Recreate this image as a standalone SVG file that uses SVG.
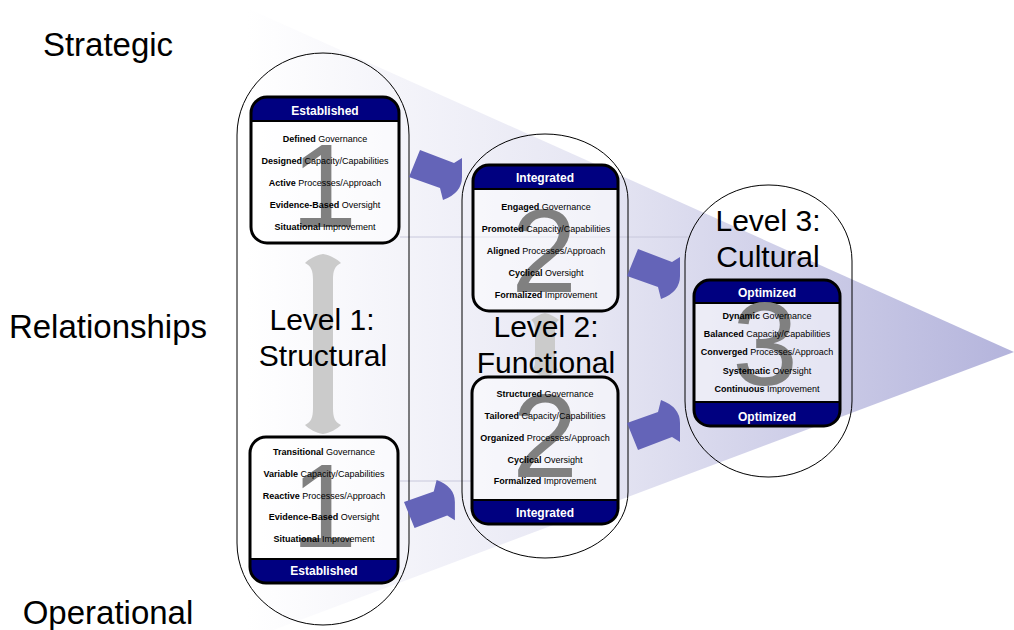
<svg xmlns="http://www.w3.org/2000/svg" width="1014" height="630" viewBox="0 0 1014 630">
  <defs>
    <linearGradient id="coneFill" gradientUnits="userSpaceOnUse" x1="247" y1="0" x2="1014" y2="0">
      <stop offset="0" stop-color="#ffffff"/>
      <stop offset="0.45" stop-color="#e6e6f3"/>
      <stop offset="1" stop-color="#b4b4dc"/>
    </linearGradient>
    <!-- bent block arrow, head pointing down at the right end -->
    <path id="bentArrow" d="M11 0 L45 13 L53 8 L53 27 Q53 43 34 50 L31 38 L0 27 Z"/>
    <style>
      text { font-family: "Liberation Sans", Arial, Helvetica, sans-serif; fill: #000; text-anchor: middle; }
      .axis { font-size: 33px; }
      .lvl { font-size: 30px; }
      .num { font-size: 118px; fill: #808080; }
      .row { font-size: 9px; }
      .b { font-weight: bold; }
      .hdr { font-size: 12px; font-weight: bold; fill: #ffffff; }
      .oval { fill: none; stroke: #000; stroke-width: 1; }
      .frame { fill: none; stroke: #000; stroke-width: 3; }
      .body { fill: #ffffff; fill-opacity: 0.5; }
      .band { fill: #000080; }
      .sep { stroke: #000; stroke-width: 2; }
      .arrow { fill: #6464b8; }
      .span { fill: #cbcbcb; }
      .guide { stroke: #c8c8dc; stroke-width: 1; }
    </style>
  </defs>

  <rect width="1014" height="630" fill="#ffffff"/>

  <!-- widening cone behind the maturity levels -->
  <polygon points="247,8 1014,352 247,640" fill="url(#coneFill)"/>
  <line class="guide" x1="400" y1="237" x2="690" y2="237"/>
  <line class="guide" x1="400" y1="481" x2="472" y2="481"/>

  <!-- axis labels -->
  <g id="axis">
    <text class="axis" x="108" y="56">Strategic</text>
    <text class="axis" x="108" y="338">Relationships</text>
    <text class="axis" x="108" y="624">Operational</text>
  </g>

  <!-- level 1 -->
  <g id="level1">
    <rect class="oval" x="237" y="53" width="172" height="572" rx="86" ry="82"/>
    <path class="span" d="M323,254 C330,255 337,259 341,263 C335,266 333,270 333,280 L333,408 C333,418 335,422 341,425 C337,429 330,433 323,434 C316,433 309,429 305,425 C311,422 313,418 313,408 L313,280 C313,270 311,266 305,263 C309,259 316,255 323,254 Z"/>
    <text class="lvl" x="322" y="330">Level 1:</text>
    <text class="lvl" x="323" y="366">Structural</text>
  </g>

  <g id="box-1-strategic">
    <rect class="body" x="251" y="97" width="148" height="146" rx="16"/>
    <path class="band" d="M251,121 V113 A16,16 0 0 1 267,97 H383 A16,16 0 0 1 399,113 V121 Z"/>
    <line class="sep" x1="251" y1="121" x2="399" y2="121"/>
    <text class="hdr" x="325" y="115">Established</text>
    <text class="num" x="324" y="227">1</text>
    <text class="row" x="325" y="142"><tspan class="b">Defined</tspan> Governance</text>
    <text class="row" x="325" y="164"><tspan class="b">Designed</tspan> Capacity/Capabilities</text>
    <text class="row" x="325" y="186"><tspan class="b">Active</tspan> Processes/Approach</text>
    <text class="row" x="325" y="208"><tspan class="b">Evidence-Based</tspan> Oversight</text>
    <text class="row" x="325" y="230"><tspan class="b">Situational</tspan> Improvement</text>
    <rect class="frame" x="251" y="97" width="148" height="146" rx="16"/>
  </g>

  <g id="box-1-operational">
    <rect class="body" x="250" y="437" width="148" height="146" rx="16"/>
    <path class="band" d="M250,559 V567 A16,16 0 0 0 266,583 H382 A16,16 0 0 0 398,567 V559 Z"/>
    <line class="sep" x1="250" y1="559" x2="398" y2="559"/>
    <text class="hdr" x="324" y="575">Established</text>
    <text class="num" x="324" y="547">1</text>
    <text class="row" x="324" y="455"><tspan class="b">Transitional</tspan> Governance</text>
    <text class="row" x="324" y="477"><tspan class="b">Variable</tspan> Capacity/Capabilities</text>
    <text class="row" x="324" y="499"><tspan class="b">Reactive</tspan> Processes/Approach</text>
    <text class="row" x="324" y="520"><tspan class="b">Evidence-Based</tspan> Oversight</text>
    <text class="row" x="324" y="542"><tspan class="b">Situational</tspan> Improvement</text>
    <rect class="frame" x="250" y="437" width="148" height="146" rx="16"/>
  </g>

  <!-- level 2 -->
  <g id="level2">
    <rect class="oval" x="462" y="134" width="166" height="424" rx="83" ry="66"/>
    <path class="span" fill="#c0c0c0" d="M545,313 C550,314 555,317 559,320 C556,322 555,325 555,331 L555,360 C555,366 556,368 559,370 C555,373 550,376 545,377 C540,376 535,373 531,370 C534,368 535,366 535,360 L535,331 C535,325 534,322 531,320 C535,317 540,314 545,313 Z"/>
    <text class="lvl" x="546" y="337">Level 2:</text>
    <text class="lvl" x="546" y="373">Functional</text>
  </g>

  <g id="box-2-strategic">
    <rect class="body" x="473" y="165" width="145" height="146" rx="16"/>
    <path class="band" d="M473,189 V181 A16,16 0 0 1 489,165 H602 A16,16 0 0 1 618,181 V189 Z"/>
    <line class="sep" x1="473" y1="189" x2="618" y2="189"/>
    <text class="hdr" x="545" y="182">Integrated</text>
    <text class="num" x="544" y="292">2</text>
    <text class="row" x="546" y="210"><tspan class="b">Engaged</tspan> Governance</text>
    <text class="row" x="546" y="232"><tspan class="b">Promoted</tspan> Capacity/Capabilities</text>
    <text class="row" x="546" y="254"><tspan class="b">Aligned</tspan> Processes/Approach</text>
    <text class="row" x="546" y="276"><tspan class="b">Cyclical</tspan> Oversight</text>
    <text class="row" x="546" y="298"><tspan class="b">Formalized</tspan> Improvement</text>
    <rect class="frame" x="473" y="165" width="145" height="146" rx="16"/>
  </g>

  <g id="box-2-operational">
    <rect class="body" x="472" y="377" width="146" height="147" rx="16"/>
    <path class="band" d="M472,500 V508 A16,16 0 0 0 488,524 H602 A16,16 0 0 0 618,508 V500 Z"/>
    <line class="sep" x1="472" y1="500" x2="618" y2="500"/>
    <text class="hdr" x="545" y="517">Integrated</text>
    <text class="num" x="545" y="477">2</text>
    <text class="row" x="545" y="397"><tspan class="b">Structured</tspan> Governance</text>
    <text class="row" x="545" y="419"><tspan class="b">Tailored</tspan> Capacity/Capabilities</text>
    <text class="row" x="545" y="441"><tspan class="b">Organized</tspan> Processes/Approach</text>
    <text class="row" x="545" y="463"><tspan class="b">Cyclical</tspan> Oversight</text>
    <text class="row" x="545" y="484"><tspan class="b">Formalized</tspan> Improvement</text>
    <rect class="frame" x="472" y="377" width="146" height="147" rx="16"/>
  </g>

  <!-- level 3 -->
  <g id="level3">
    <rect class="oval" x="685" y="185" width="167" height="292" rx="83" ry="76"/>
    <text class="lvl" x="768" y="231">Level 3:</text>
    <text class="lvl" x="768" y="267">Cultural</text>
  </g>

  <g id="box-3">
    <rect class="body" x="694" y="280" width="146" height="146" rx="16"/>
    <path class="band" d="M694,303 V296 A16,16 0 0 1 710,280 H824 A16,16 0 0 1 840,296 V303 Z"/>
    <path class="band" d="M694,402 V410 A16,16 0 0 0 710,426 H824 A16,16 0 0 0 840,410 V402 Z"/>
    <line class="sep" x1="694" y1="303" x2="840" y2="303"/>
    <line class="sep" x1="694" y1="402" x2="840" y2="402"/>
    <text class="hdr" x="767" y="297">Optimized</text>
    <text class="hdr" x="767" y="421">Optimized</text>
    <text class="num" x="765" y="385">3</text>
    <text class="row" x="767" y="319"><tspan class="b">Dynamic</tspan> Governance</text>
    <text class="row" x="767" y="337"><tspan class="b">Balanced</tspan> Capacity/Capabilities</text>
    <text class="row" x="767" y="355"><tspan class="b">Converged</tspan> Processes/Approach</text>
    <text class="row" x="767" y="374"><tspan class="b">Systematic</tspan> Oversight</text>
    <text class="row" x="767" y="392"><tspan class="b">Continuous</tspan> Improvement</text>
    <rect class="frame" x="694" y="280" width="146" height="146" rx="16"/>
  </g>

  <!-- progression arrows -->
  <g id="connectors">
    <use href="#bentArrow" class="arrow" transform="translate(409,150)"/>
    <use href="#bentArrow" class="arrow" transform="translate(404,528) scale(0.96,-0.96)"/>
    <use href="#bentArrow" class="arrow" transform="translate(627,249)"/>
    <use href="#bentArrow" class="arrow" transform="translate(627,450) scale(1,-1)"/>
  </g>
</svg>
